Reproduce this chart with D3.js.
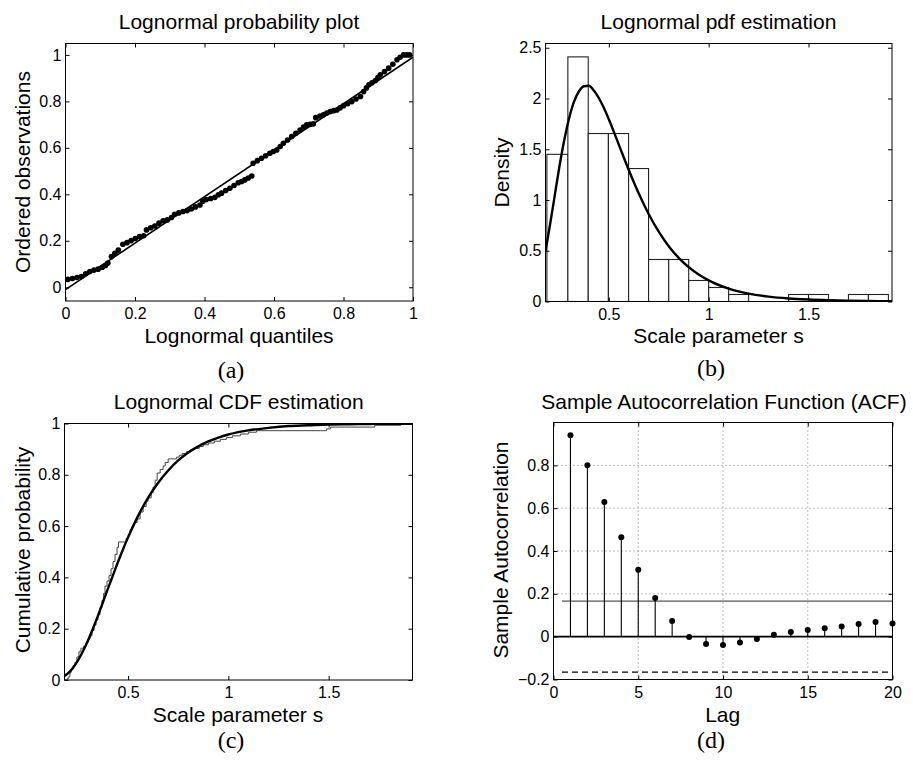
<!DOCTYPE html>
<html><head><meta charset="utf-8">
<script src="https://cdn.jsdelivr.net/npm/d3@7"></script>
<style>
html,body{margin:0;padding:0;background:#fff;}
svg{display:block;}
text{font-family:"Liberation Sans",Arial,Helvetica,sans-serif;fill:#000;}
</style></head>
<body>
<svg id="chart" width="913" height="763"></svg>
<script>
// ---------- DATA ----------
// (a) probability plot: lognormal quantiles vs ordered observations
const qqX = [0.007,0.02,0.033,0.046,0.058,0.07,0.082,0.094,0.106,0.115,0.122,0.132,0.142,0.152,0.165,0.177,0.189,0.201,0.213,0.225,0.233,0.245,0.257,0.269,0.281,0.293,0.305,0.314,0.326,0.338,0.35,0.362,0.374,0.387,0.395,0.405,0.418,0.43,0.44,0.449,0.461,0.473,0.485,0.497,0.507,0.516,0.526,0.536,0.54,0.552,0.564,0.576,0.588,0.598,0.608,0.618,0.627,0.639,0.651,0.663,0.675,0.685,0.694,0.704,0.713,0.72,0.732,0.742,0.752,0.762,0.772,0.781,0.79,0.8,0.812,0.824,0.836,0.849,0.858,0.866,0.873,0.882,0.892,0.899,0.906,0.918,0.93,0.942,0.954,0.963,0.973,0.982,0.99];
const qqY = [0.034,0.038,0.042,0.046,0.058,0.068,0.074,0.078,0.086,0.094,0.104,0.132,0.146,0.16,0.185,0.192,0.201,0.21,0.218,0.222,0.247,0.256,0.264,0.276,0.286,0.29,0.3,0.314,0.32,0.326,0.33,0.337,0.346,0.354,0.37,0.378,0.382,0.387,0.398,0.405,0.416,0.426,0.438,0.45,0.455,0.462,0.47,0.479,0.534,0.545,0.555,0.566,0.577,0.584,0.591,0.606,0.62,0.634,0.649,0.663,0.677,0.69,0.699,0.701,0.703,0.73,0.737,0.742,0.75,0.756,0.76,0.763,0.772,0.781,0.79,0.799,0.81,0.821,0.842,0.858,0.871,0.88,0.89,0.902,0.914,0.928,0.943,0.96,0.979,0.99,1.0,1.0,1.0];
const refLineX = [0, 1];
const refLineY = [-0.01, 0.99];
const qqXTicks = [0, 0.2, 0.4, 0.6, 0.8, 1];
const qqXLabels = ["0","0.2","0.4","0.6","0.8","1"];
const qqYTicks = [0, 0.2, 0.4, 0.6, 0.8, 1];
const qqYLabels = ["0","0.2","0.4","0.6","0.8","1"];

// (b) histogram + fitted pdf
const histEdges = [0.19,0.295,0.397,0.498,0.599,0.699,0.8,0.9,1.0,1.1,1.2,1.3,1.4,1.5,1.6,1.7,1.8,1.9];
const histDensity = [1.45,2.41,1.655,1.655,1.31,0.414,0.414,0.207,0.138,0.069,0,0,0.069,0.069,0,0.069,0.069];
const pdfX = [0.183,0.2,0.225,0.25,0.275,0.3,0.325,0.35,0.375,0.4,0.425,0.45,0.475,0.5,0.55,0.6,0.65,0.7,0.75,0.8,0.85,0.9,0.95,1.0,1.1,1.2,1.3,1.4,1.5,1.6,1.7,1.8,1.918];
const pdfY = [0.498,0.689,0.992,1.298,1.571,1.796,1.964,2.069,2.121,2.126,2.079,2.005,1.908,1.795,1.546,1.295,1.063,0.860,0.688,0.545,0.430,0.338,0.266,0.208,0.127,0.078,0.048,0.030,0.019,0.012,0.0075,0.0048,0.0029];
const sXTicks = [0.5, 1, 1.5];
const sXLabels = ["0.5","1","1.5"];
const pdfYTicks = [0, 0.5, 1, 1.5, 2, 2.5];
const pdfYLabels = ["0","0.5","1","1.5","2","2.5"];

// (c) empirical + fitted CDF
const cdfX = pdfX;
const cdfY = [0.016,0.026,0.047,0.076,0.112,0.154,0.201,0.251,0.304,0.357,0.409,0.461,0.510,0.556,0.640,0.711,0.769,0.817,0.856,0.887,0.911,0.930,0.945,0.957,0.973,0.983,0.990,0.993,0.996,0.997,0.998,0.999,0.999];
const ecdfX = [0.183,0.197,0.205,0.21,0.215,0.225,0.235,0.245,0.255,0.265,0.278,0.29,0.3,0.31,0.32,0.33,0.34,0.35,0.36,0.37,0.378,0.385,0.395,0.405,0.415,0.425,0.435,0.445,0.452,0.49,0.5,0.51,0.52,0.53,0.545,0.56,0.575,0.59,0.6,0.615,0.625,0.635,0.645,0.66,0.675,0.685,0.7,0.742,0.755,0.77,0.79,0.81,0.83,0.855,0.875,0.9,0.93,0.96,0.99,1.02,1.06,1.1,1.14,1.49,1.51,1.73,1.86,1.918];
const ecdfY = [0,0.007,0.014,0.028,0.041,0.055,0.069,0.09,0.11,0.124,0.131,0.145,0.159,0.172,0.193,0.214,0.234,0.255,0.283,0.31,0.338,0.366,0.386,0.407,0.434,0.462,0.49,0.517,0.538,0.552,0.566,0.586,0.6,0.614,0.628,0.655,0.676,0.697,0.71,0.731,0.752,0.779,0.807,0.821,0.834,0.848,0.862,0.869,0.876,0.883,0.89,0.897,0.903,0.91,0.917,0.924,0.931,0.938,0.945,0.952,0.959,0.966,0.972,0.979,0.986,0.993,1.0,1.0];
const cdfYTicks = [0, 0.2, 0.4, 0.6, 0.8, 1];
const cdfYLabels = ["0","0.2","0.4","0.6","0.8","1"];

// (d) sample autocorrelation
const acfLags = [1,2,3,4,5,6,7,8,9,10,11,12,13,14,15,16,17,18,19,20];
const acfValues = [0.941,0.800,0.629,0.464,0.313,0.181,0.073,-0.002,-0.034,-0.039,-0.027,-0.011,0.009,0.022,0.031,0.039,0.048,0.059,0.068,0.062];
const acfBound = 0.166;
const lagTicks = [0, 5, 10, 15, 20];
const lagLabels = ["0","5","10","15","20"];
const acfYTicks = [-0.2, 0, 0.2, 0.4, 0.6, 0.8];
const acfYLabels = ["\u22120.2","0","0.2","0.4","0.6","0.8"];

// ---------- DRAW ----------
const svg = d3.select("#chart");
svg.append("rect").attr("width",913).attr("height",763).attr("fill","#fff");
const FONT = '"Liberation Sans",Arial,Helvetica,sans-serif';

function makePanel(id, box, xDom, yDom) {
  const x = d3.scaleLinear().domain(xDom).range([box.l, box.r]);
  const y = d3.scaleLinear().domain(yDom).range([box.b, box.t]);
  svg.append("clipPath").attr("id", id).append("rect")
    .attr("x", box.l).attr("y", box.t).attr("width", box.r - box.l).attr("height", box.b - box.t);
  const g = svg.append("g").attr("clip-path", `url(#${id})`);
  return {x, y, g, box};
}

function styleAxis(sel) {
  sel.attr("font-family", FONT).attr("font-size", 16);
  sel.select(".domain").remove();
  sel.selectAll(".tick line").attr("stroke", "#000");
  sel.selectAll(".tick text").attr("fill", "#000");
}

function drawAxes(p, xTicks, xLabels, yTicks, yLabels) {
  const b = p.box;
  svg.append("g").attr("transform", `translate(0,${b.b})`)
    .call(d3.axisBottom(p.x).tickValues(xTicks).tickFormat((d,i)=>xLabels[i]).tickSize(-4).tickSizeOuter(0).tickPadding(7))
    .call(styleAxis);
  svg.append("g").attr("transform", `translate(0,${b.t})`)
    .call(d3.axisTop(p.x).tickValues(xTicks).tickFormat("").tickSize(-4).tickSizeOuter(0))
    .call(styleAxis);
  svg.append("g").attr("transform", `translate(${b.l},0)`)
    .call(d3.axisLeft(p.y).tickValues(yTicks).tickFormat((d,i)=>yLabels[i]).tickSize(-4).tickSizeOuter(0).tickPadding(4))
    .call(styleAxis);
  svg.append("g").attr("transform", `translate(${b.r},0)`)
    .call(d3.axisRight(p.y).tickValues(yTicks).tickFormat("").tickSize(-4).tickSizeOuter(0))
    .call(styleAxis);
  svg.append("rect").attr("x", b.l).attr("y", b.t).attr("width", b.r - b.l).attr("height", b.b - b.t)
    .attr("fill", "none").attr("stroke", "#000").attr("stroke-width", 1);
}

function addText(txt, x, y, size, opts = {}) {
  const t = svg.append("text").attr("x", x).attr("y", y).attr("font-size", size)
    .attr("text-anchor", "middle").text(txt);
  if (opts.serif) t.style("font-family", '"Liberation Serif","Times New Roman",serif');
  if (opts.rotate) t.attr("transform", `rotate(-90,${x},${y})`);
  return t;
}

// ----- Panel (a) -----
const pa = makePanel("clipA", {l:65.5, r:413, t:43.5, b:301}, [0, 1], [-0.059, 1.049]);
pa.g.append("line")
  .attr("x1", pa.x(refLineX[0])).attr("y1", pa.y(refLineY[0]))
  .attr("x2", pa.x(refLineX[1])).attr("y2", pa.y(refLineY[1]))
  .attr("stroke", "#000").attr("stroke-width", 1.6);
pa.g.selectAll("circle").data(qqX.map((v,i)=>[v, qqY[i]])).join("circle")
  .attr("cx", d=>pa.x(d[0])).attr("cy", d=>pa.y(d[1])).attr("r", 2.8).attr("fill", "#000");
drawAxes(pa, qqXTicks, qqXLabels, qqYTicks, qqYLabels);
addText("Lognormal probability plot", 239, 29, 21);
addText("Lognormal quantiles", 239, 343, 21);
addText("Ordered observations", 29.5, 172, 21, {rotate:true});
addText("(a)", 231, 378, 24, {serif:true});

// ----- Panel (b) -----
const pb = makePanel("clipB", {l:545.5, r:892, t:43.5, b:301.5}, [0.183, 1.918], [0, 2.542]);
pb.g.selectAll("rect.bar").data(histDensity.map((v,i)=>({x0:histEdges[i], x1:histEdges[i+1], v})))
  .join("rect").attr("class","bar")
  .attr("x", d=>pb.x(d.x0)).attr("width", d=>pb.x(d.x1)-pb.x(d.x0))
  .attr("y", d=>pb.y(d.v)).attr("height", d=>pb.y(0)-pb.y(d.v))
  .attr("fill", "#fff").attr("stroke", "#222").attr("stroke-width", 1.1);
pb.g.append("path").datum(pdfX.map((v,i)=>[v, pdfY[i]]))
  .attr("d", d3.line().x(d=>pb.x(d[0])).y(d=>pb.y(d[1])).curve(d3.curveMonotoneX))
  .attr("fill", "none").attr("stroke", "#000").attr("stroke-width", 2.4);
drawAxes(pb, sXTicks, sXLabels, pdfYTicks, pdfYLabels);
addText("Lognormal pdf estimation", 718.5, 29, 21);
addText("Scale parameter s", 718.5, 343, 21);
addText("Density", 508.5, 172.5, 21, {rotate:true});
addText("(b)", 711, 376, 24, {serif:true});

// ----- Panel (c) -----
const pc = makePanel("clipC", {l:64.5, r:412.5, t:423.5, b:680}, [0.183, 1.918], [0, 1]);
pc.g.append("path").datum(ecdfX.map((v,i)=>[v, ecdfY[i]]))
  .attr("d", d3.line().x(d=>pc.x(d[0])).y(d=>pc.y(d[1])).curve(d3.curveStepAfter))
  .attr("fill", "none").attr("stroke", "#444").attr("stroke-width", 1);
pc.g.append("path").datum(cdfX.map((v,i)=>[v, cdfY[i]]))
  .attr("d", d3.line().x(d=>pc.x(d[0])).y(d=>pc.y(d[1])).curve(d3.curveMonotoneX))
  .attr("fill", "none").attr("stroke", "#000").attr("stroke-width", 2.4);
drawAxes(pc, sXTicks, sXLabels, cdfYTicks, cdfYLabels);
addText("Lognormal CDF estimation", 238.7, 409, 21);
addText("Scale parameter s", 238, 722, 21);
addText("Cumulative probability", 29.5, 550, 21, {rotate:true});
addText("(c)", 231, 748, 24, {serif:true});

// ----- Panel (d) -----
const pd = makePanel("clipD", {l:553.5, r:892.5, t:422.5, b:679.5}, [0, 20], [-0.2, 1]);
// grid
pd.g.selectAll("line.gx").data(lagTicks.slice(1, -1)).join("line").attr("class","gx")
  .attr("x1", d=>pd.x(d)).attr("x2", d=>pd.x(d)).attr("y1", pd.box.t).attr("y2", pd.box.b)
  .attr("stroke", "#777").attr("stroke-width", 1).attr("stroke-dasharray", "1,3");
pd.g.selectAll("line.gy").data(acfYTicks.slice(2)).join("line").attr("class","gy")
  .attr("y1", d=>pd.y(d)).attr("y2", d=>pd.y(d)).attr("x1", pd.box.l).attr("x2", pd.box.r)
  .attr("stroke", "#777").attr("stroke-width", 1).attr("stroke-dasharray", "1,3");
// bounds
pd.g.append("line").attr("x1", pd.x(0.5)).attr("x2", pd.x(20)).attr("y1", pd.y(acfBound)).attr("y2", pd.y(acfBound))
  .attr("stroke", "#555").attr("stroke-width", 1.3);
pd.g.append("line").attr("x1", pd.x(0.5)).attr("x2", pd.x(20)).attr("y1", pd.y(-acfBound)).attr("y2", pd.y(-acfBound))
  .attr("stroke", "#000").attr("stroke-width", 1.2).attr("stroke-dasharray", "6,4");
// zero line
pd.g.append("line").attr("x1", pd.x(0)).attr("x2", pd.x(20)).attr("y1", pd.y(0)).attr("y2", pd.y(0))
  .attr("stroke", "#000").attr("stroke-width", 1.6);
// stems
pd.g.selectAll("line.stem").data(acfLags.map((l,i)=>[l, acfValues[i]])).join("line").attr("class","stem")
  .attr("x1", d=>pd.x(d[0])).attr("x2", d=>pd.x(d[0])).attr("y1", pd.y(0)).attr("y2", d=>pd.y(d[1]))
  .attr("stroke", "#000").attr("stroke-width", 1.1);
svg.append("g").selectAll("circle").data(acfLags.map((l,i)=>[l, acfValues[i]])).join("circle")
  .attr("cx", d=>pd.x(d[0])).attr("cy", d=>pd.y(d[1])).attr("r", 3).attr("fill", "#000");
drawAxes(pd, lagTicks, lagLabels, acfYTicks, acfYLabels);
addText("Sample Autocorrelation Function (ACF)", 724, 409, 21);
addText("Lag", 722.7, 722, 21);
addText("Sample Autocorrelation", 507.7, 550, 21, {rotate:true});
addText("(d)", 711, 748, 24, {serif:true});
</script>
</body></html>
